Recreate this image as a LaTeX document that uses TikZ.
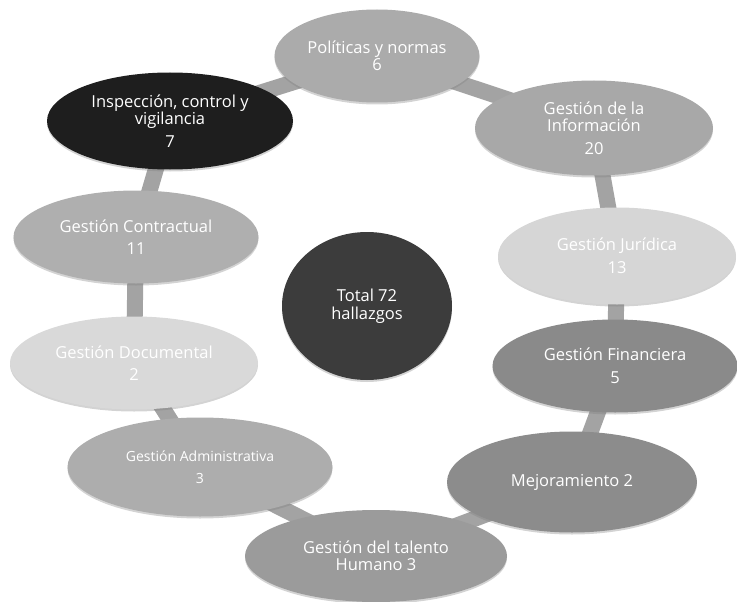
\documentclass[tikz,border=0pt]{standalone}
\usepackage{fontspec}
\setmainfont{Open Sans}
\usetikzlibrary{shapes.geometric,backgrounds,shadows}
\definecolor{cpol}{HTML}{ABABAB}
\definecolor{cins}{HTML}{1E1E1E}
\definecolor{cinf}{HTML}{A8A8A8}
\definecolor{cjur}{HTML}{D6D6D6}
\definecolor{ccon}{HTML}{AFAFAF}
\definecolor{cdoc}{HTML}{D9D9D9}
\definecolor{cadm}{HTML}{ADADAD}
\definecolor{cfin}{HTML}{8A8A8A}
\definecolor{cmej}{HTML}{8C8C8C}
\definecolor{ctal}{HTML}{9B9B9B}
\definecolor{ctot}{HTML}{3C3C3C}
\definecolor{cband}{HTML}{A3A3A3}
\begin{document}
\begin{tikzpicture}[x=1pt,y=-1pt,
  oval/.style={ellipse, inner sep=0pt, text=white, align=center,
    font=\fontsize{16.5}{17.5}\selectfont,
    drop shadow={shadow xshift=0pt, shadow yshift=-2pt, opacity=0.35}},
  smalltext/.style={font=\fontsize{14}{17}\selectfont},
  band/.style={line width=16pt, draw=cband}]
\useasboundingbox (0,0) rectangle (737,602);
\node[oval, fill=cpol, minimum width=205pt, minimum height=93pt] (pol) at (377,56) {Políticas y normas\\6};
\node[oval, fill=cins, minimum width=246pt, minimum height=97pt] (ins) at (170,121) {Inspección, control y\\vigilancia\\[5pt]7};
\node[oval, fill=cinf, minimum width=238pt, minimum height=95pt] (inf) at (594,128) {Gestión de la\\Información\\[5pt]20};
\node[oval, fill=ccon, minimum width=245pt, minimum height=93pt] (con) at (136,237) {Gestión Contractual\\[5pt]11};
\node[oval, fill=cjur, minimum width=238pt, minimum height=97pt] (jur) at (617,256) {Gestión Jurídica\\[5pt]13};
\node[oval, fill=ctot, minimum width=170pt, minimum height=148pt] (tot) at (367,306) {Total 72\\hallazgos};
\node[oval, fill=cdoc, minimum width=248pt, minimum height=93pt] (doc) at (134,363) {Gestión Documental\\[5pt]2};
\node[oval, fill=cfin, minimum width=245pt, minimum height=93pt] (fin) at (615,366) {Gestión Financiera\\[5pt]5};
\node[oval, smalltext, fill=cadm, minimum width=265pt, minimum height=99pt] (adm) at (200,467) {Gestión Administrativa\\[5pt]3};
\node[oval, fill=cmej, minimum width=250pt, minimum height=101pt] (mej) at (572,482) {Mejoramiento 2};
\node[oval, fill=ctal, minimum width=262pt, minimum height=92pt] (tal) at (376,556) {Gestión del talento\\Humano 3};
\begin{scope}[on background layer]
\draw[band] (pol.center) -- (inf.center);
\draw[band] (inf.center) -- (jur.center);
\draw[band] (jur.center) -- (fin.center);
\draw[band] (fin.center) -- (mej.center);
\draw[band] (mej.center) -- (tal.center);
\draw[band] (tal.center) -- (adm.center);
\draw[band] (adm.center) -- (doc.center);
\draw[band] (doc.center) -- (con.center);
\draw[band] (con.center) -- (ins.center);
\draw[band] (ins.center) -- (pol.center);
\end{scope}
\end{tikzpicture}
\end{document}
